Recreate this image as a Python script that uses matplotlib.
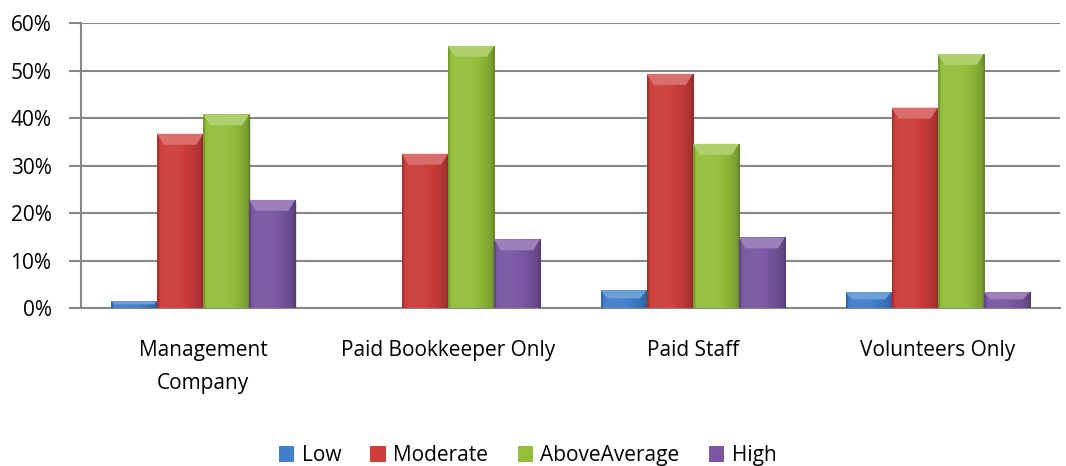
import numpy as np
import matplotlib
matplotlib.use("Agg")
import matplotlib.pyplot as plt
from matplotlib.colors import to_rgb
from matplotlib.patches import Polygon
from matplotlib.ticker import PercentFormatter

categories = ["Management\nCompany", "Paid Bookkeeper Only", "Paid Staff", "Volunteers Only"]
series_names = ["Low", "Moderate", "AboveAverage", "High"]
low = [1.5, 0.0, 3.8, 3.4]
moderate = [36.7, 32.5, 49.3, 42.2]
above_average = [40.8, 55.2, 34.6, 53.5]
high = [22.8, 14.5, 14.9, 3.4]
colors = ["#3f7fcc", "#cc3d3b", "#93bf3a", "#7a56a3"]

plt.rcParams["font.family"] = ["Open Sans", "DejaVu Sans"]
FS = 15

fig = plt.figure(figsize=(10.66, 4.66), dpi=100)
ax = fig.add_axes([0.0757, 0.3384, 0.9187, 0.6122])

x = np.arange(len(categories))
w = 0.188
values = [low, moderate, above_average, high]


def shade(c, f):
    r = np.array(to_rgb(c))
    if f >= 1:
        return tuple(r + (1 - r) * (f - 1))
    return tuple(r * f)


# horizontal shading profile across each bar face
prof = np.linspace(0, 1, 64)
profile = 1.05 - 0.25 * (prof - 0.3) ** 2 * 2.2
profile[:3] = 0.82
profile[-3:] = 0.72

for i, (vals, col) in enumerate(zip(values, colors)):
    bars = ax.bar(x + (i - 1.5) * w, vals, w, color=col, label=series_names[i],
                  zorder=3, linewidth=0)
    for b, v in zip(bars, vals):
        if v <= 0:
            continue
        x0, x1 = b.get_x(), b.get_x() + b.get_width()
        rgb = np.array([[shade(col, f) for f in profile]])
        img = ax.imshow(rgb, extent=[x0, x1, 0, v], aspect="auto",
                        zorder=4, interpolation="bilinear")
        img.set_clip_path(b)
        # bevelled top edge
        bh = min(2.3, v * 0.45)
        bw = min(0.028, bh * 0.02)
        top = Polygon([[x0, v], [x1, v], [x1 - bw, v - bh], [x0 + bw, v - bh]],
                      closed=True, facecolor=shade(col, 1.25), edgecolor="none",
                      zorder=5)
        ax.add_patch(top)
        # soft shadow to the right
        ax.add_patch(plt.Rectangle((x1, 0), 0.006, v * 0.985, facecolor="#000000",
                                   alpha=0.12, zorder=2, linewidth=0))

ax.set_xlim(-0.5, len(categories) - 0.5)
ax.set_ylim(0, 60)
ax.set_yticks(np.arange(0, 61, 10))
ax.yaxis.set_major_formatter(PercentFormatter(decimals=0))
ax.set_xticks(x)
ax.set_xticklabels(categories, fontsize=FS, linespacing=1.75)
ax.tick_params(axis="x", length=0, pad=23)
ax.tick_params(axis="y", length=9, width=1.5, color="#878787", labelsize=FS, pad=12)
ax.yaxis.grid(True, color="#878787", linewidth=1.5, zorder=0)
ax.set_axisbelow(True)
for s in ["top", "right"]:
    ax.spines[s].set_visible(False)
for s in ["left", "bottom"]:
    ax.spines[s].set_color("#878787")
    ax.spines[s].set_linewidth(1.5)

leg = fig.legend(loc="center", bbox_to_anchor=(0.495, 0.022), ncol=4, frameon=False,
                 fontsize=FS, handlelength=0.75, handleheight=0.75,
                 handletextpad=0.35, columnspacing=1.4)

fig.savefig("out.png", dpi=100)
